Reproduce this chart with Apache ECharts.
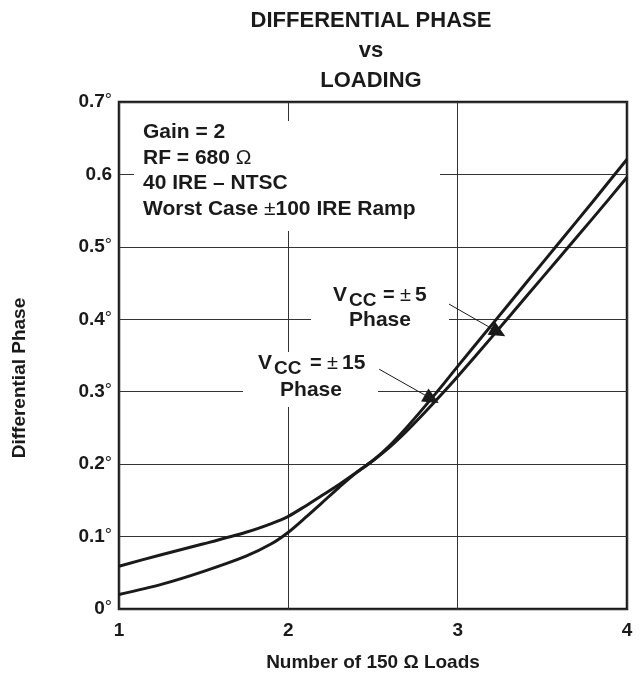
<!DOCTYPE html>
<html>
<head>
<meta charset="utf-8">
<script src="https://cdn.jsdelivr.net/npm/echarts@6/dist/echarts.min.js"></script>
<style>html,body{margin:0;padding:0;background:#fff;}#c{width:642px;height:677px;}</style>
</head>
<body>
<div id="c"></div>
<script>
// ---- data ----
const loads = [1.0, 1.25, 1.5, 1.75, 1.9, 2.0, 2.1, 2.2, 2.3, 2.4, 2.5, 2.6, 2.7, 2.8, 2.9, 3.0, 3.2, 3.4, 3.6, 3.8, 4.0];
const phaseCurveA = [0.059, 0.075, 0.090, 0.106, 0.118, 0.128, 0.142, 0.157, 0.172, 0.188, 0.205, 0.224, 0.246, 0.270, 0.295, 0.321, 0.375, 0.430, 0.485, 0.540, 0.596];
const phaseCurveB = [0.020, 0.034, 0.052, 0.073, 0.090, 0.106, 0.126, 0.147, 0.168, 0.188, 0.205, 0.226, 0.251, 0.278, 0.306, 0.335, 0.392, 0.449, 0.506, 0.563, 0.621];
const xTickLabels = ['1', '2', '3', '4'];
const yTickLabels = ['0°', '0.1°', '0.2°', '0.3°', '0.4°', '0.5°', '0.6', '0.7°'];
const arrow5 = [[2.949, 0.421], [3.240, 0.382]];
const arrow15 = [[2.537, 0.331], [2.847, 0.290]];

const FONT = '"Liberation Sans", Arial, Helvetica, sans-serif';
const INK = '#1a1a1a';

const chart = echarts.init(document.getElementById('c'), null, {renderer: 'canvas'});

function pairs(xs, ys) { return xs.map((x, i) => [x, ys[i]]); }

function yLabel(v) {
  const idx = Math.round(v * 10);
  const t = yTickLabels[idx] || '';
  if (t.endsWith('°')) return '{v|' + t.slice(0, -1) + '}{d|°}';
  return '{v|' + t + '}';
}

const boxText = (x, y, parts) => ({
  type: 'text', x: x, y: y, z: 20,
  style: {
    text: parts, verticalAlign: 'middle',
    rich: {
      b: {fontFamily: FONT, fontWeight: 'bold', fontSize: 21, fill: INK},
      n: {fontFamily: FONT, fontWeight: 'normal', fontSize: 21, fill: INK}
    }
  }
});

function txt(x, y, s, font) {
  return {type: 'text', x: x, y: y, z: 20, style: {text: s, font: font, fill: INK, verticalAlign: 'middle', align: 'left'}};
}

function vccLabel(cx, y1, y2, val, off) {
  return [
    txt(cx + off[0], y1, 'V', 'bold 21px ' + FONT),
    txt(cx + off[1], y1 + 6, 'CC', 'bold 19px ' + FONT),
    txt(cx + off[2], y1, '=', 'bold 20px ' + FONT),
    txt(cx + off[3], y1, '±', 'normal 20px ' + FONT),
    txt(cx + off[4], y1, val, 'bold 21px ' + FONT),
    {type: 'text', x: cx, y: y2, z: 20, style: {text: 'Phase', font: 'bold 21px ' + FONT, fill: INK, verticalAlign: 'middle', align: 'center'}}
  ];
}

const option = {
  animation: false,
  backgroundColor: '#ffffff',
  title: {
    text: 'DIFFERENTIAL PHASE\nvs\nLOADING',
    left: 366, top: 1, textAlign: 'center',
    textStyle: {fontFamily: FONT, fontWeight: 'bold', fontSize: 22, lineHeight: 30, color: INK}
  },
  grid: {left: 119, right: 15, top: 102, bottom: 67, show: true, borderColor: INK, borderWidth: 2.5, backgroundColor: 'transparent'},
  xAxis: {
    type: 'value', min: 1, max: 4, interval: 1,
    name: 'Number of 150 Ω Loads', nameLocation: 'middle', nameGap: 44,
    nameTextStyle: {fontFamily: FONT, fontWeight: 'bold', fontSize: 19, color: INK},
    axisLine: {show: false}, axisTick: {show: false},
    splitLine: {show: true, lineStyle: {color: '#333', width: 1}},
    axisLabel: {margin: 12, fontFamily: FONT, fontWeight: 'bold', fontSize: 19, color: INK,
      formatter: v => xTickLabels[Math.round(v) - 1] || ''}
  },
  yAxis: {
    type: 'value', min: 0, max: 0.7, interval: 0.1,
    axisLine: {show: false}, axisTick: {show: false},
    splitLine: {show: true, lineStyle: {color: '#333', width: 1}},
    axisLabel: {margin: 7, formatter: yLabel,
      rich: {
        v: {fontFamily: FONT, fontWeight: 'bold', fontSize: 19, color: INK},
        d: {fontFamily: FONT, fontWeight: 'normal', fontSize: 18, color: INK, verticalAlign: 'top'}
      }}
  },
  series: [
    {
      type: 'line', data: pairs(loads, phaseCurveA), showSymbol: false, smooth: 0.3, z: 5,
      lineStyle: {color: INK, width: 3}
    },
    {
      type: 'line', data: pairs(loads, phaseCurveB), showSymbol: false, smooth: 0.3, z: 5,
      lineStyle: {color: INK, width: 3},
      markLine: {
        silent: true, symbol: ['none', 'triangle'], symbolSize: [15, 16],
        label: {show: false},
        lineStyle: {color: INK, width: 1, type: 'solid'},
        data: [
          [{coord: arrow5[0]}, {coord: arrow5[1]}],
          [{coord: arrow15[0]}, {coord: arrow15[1]}]
        ]
      }
    }
  ],
  graphic: [
    {type: 'rect', shape: {x: 134, y: 121, width: 306, height: 110}, style: {fill: '#fff'}, z: 10},
    {type: 'rect', shape: {x: 311, y: 284, width: 138, height: 52}, style: {fill: '#fff'}, z: 10},
    {type: 'rect', shape: {x: 243, y: 352, width: 135, height: 55}, style: {fill: '#fff'}, z: 10},
    boxText(143, 132, '{b|Gain = 2}'),
    boxText(143, 158, '{b|RF = 680 }{n|Ω}'),
    boxText(143, 183.5, '{b|40 IRE – NTSC}'),
    boxText(143, 209, '{b|Worst Case }{n|±}{b|100 IRE Ramp}'),
    ...vccLabel(380, 295, 320, '5', [-47, -31, 3, 20, 35]),
    ...vccLabel(311, 363, 390, '15', [-53, -37, -1, 16, 31]),
    {type: 'text', x: 20, y: 378, rotation: Math.PI / 2, z: 20,
      style: {text: 'Differential Phase', font: 'bold 19px ' + FONT, fill: INK, align: 'center', verticalAlign: 'middle'}}
  ]
};
chart.setOption(option);
</script>
</body>
</html>
